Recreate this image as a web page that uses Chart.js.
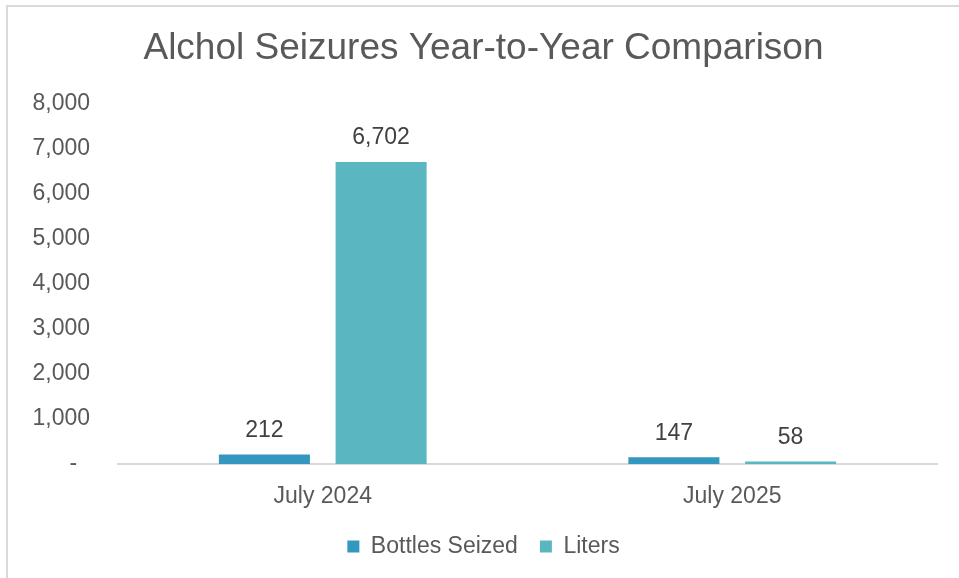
<!DOCTYPE html>
<html>
<head>
<meta charset="utf-8">
<script src="https://cdn.jsdelivr.net/npm/chart.js@4/dist/chart.umd.min.js"></script>
<style>
html,body{margin:0;padding:0;background:#fff;overflow:hidden;}
#frame{position:absolute;left:6px;top:5px;width:1000px;height:700px;border-left:2px solid #d9d9d9;border-top:2px solid #d9d9d9;}
#wrap{position:absolute;left:0;top:0;width:959px;height:578px;}
</style>
</head>
<body>
<div id="frame"></div>
<div id="wrap"><canvas id="c" width="959" height="578"></canvas></div>
<script>
const categories = ["July 2024", "July 2025"];
const bottlesSeized = [212, 147];
const liters = [6702, 58];
const seriesNames = ["Bottles Seized", "Liters"];
const yTicks = [0, 1000, 2000, 3000, 4000, 5000, 6000, 7000, 8000];

const FONT = "'Liberation Sans', Arial, sans-serif";

const dataLabels = {
  id: 'dataLabels',
  afterDatasetsDraw(chart) {
    const ctx = chart.ctx;
    ctx.save();
    ctx.font = "23px " + FONT;
    ctx.fillStyle = "#404040";
    ctx.textAlign = "center";
    ctx.textBaseline = "middle";
    chart.data.datasets.forEach((ds, i) => {
      const meta = chart.getDatasetMeta(i);
      meta.data.forEach((el, j) => {
        ctx.fillText(ds.data[j].toLocaleString('en-US'), el.x, el.y - 24);
      });
    });
    ctx.restore();
  }
};

new Chart(document.getElementById('c'), {
  type: 'bar',
  data: {
    labels: categories,
    datasets: [
      { label: seriesNames[0], data: bottlesSeized, backgroundColor: '#3497c0', barPercentage: 0.78, categoryPercentage: 0.57 },
      { label: seriesNames[1], data: liters, backgroundColor: '#5ab7c1', barPercentage: 0.78, categoryPercentage: 0.57 }
    ]
  },
  options: {
    responsive: false,
    animation: false,
    layout: { padding: { left: 30, right: 22, top: 0, bottom: 10 } },
    plugins: {
      title: {
        display: true,
        text: 'Alchol Seizures Year-to-Year Comparison',
        color: '#595959',
        font: { family: FONT, size: 37, weight: 'normal' },
        padding: { top: 27, bottom: 32 }
      },
      legend: {
        position: 'bottom',
        labels: {
          color: '#595959',
          font: { family: FONT, size: 23 },
          boxWidth: 12,
          boxHeight: 12,
          padding: 22
        }
      },
      tooltip: { enabled: false }
    },
    scales: {
      x: {
        afterFit(scale) { scale.height = 49; },
        grid: { display: false, drawTicks: false },
        border: { display: true, color: '#d9d9d9', width: 2 },
        ticks: { color: '#595959', font: { family: FONT, size: 23 }, padding: 19 }
      },
      y: {
        min: 0, max: 8000,
        afterBuildTicks(scale) { scale.ticks = yTicks.map(v => ({ value: v })); },
        afterFit(scale) { scale.width = 88; },
        grid: { display: false, drawTicks: false },
        border: { display: false },
        ticks: {
          color: '#595959',
          font: { family: FONT, size: 23 },
          padding: 28,
          callback: v => v === 0 ? '-  ' : v.toLocaleString('en-US')
        }
      }
    }
  },
  plugins: [dataLabels]
});
</script>
</body>
</html>
